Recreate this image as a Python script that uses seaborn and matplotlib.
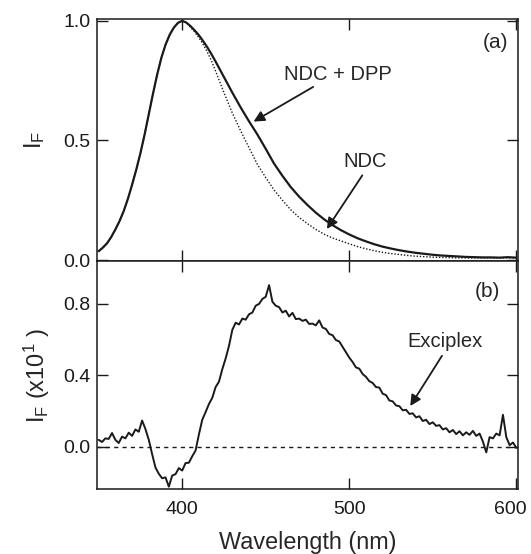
import numpy as np
import pandas as pd
import matplotlib
matplotlib.use("Agg")
import matplotlib.pyplot as plt
import matplotlib.transforms as mtransforms
import seaborn as sns

# ---------------- data ----------------
# Panel (a): normalized fluorescence spectra
wl_a = [350, 352.5, 355, 357.5, 360, 362.5, 365, 367.5, 370, 372.5, 375, 377.5,
        380, 382.5, 385, 387.5, 390, 392.5, 395, 397.5, 400, 402.5, 405, 407.5,
        410, 412.5, 415, 417.5, 420, 425, 430, 435, 440, 445, 450, 455, 460,
        465, 470, 475, 480, 485, 490, 495, 500, 505, 510, 515, 520, 525, 530,
        535, 540, 545, 550, 555, 560, 565, 570, 575, 580, 585, 590, 595, 600]
ndc_dpp = [0.037, 0.052, 0.070, 0.096, 0.128, 0.163, 0.205, 0.256, 0.315, 0.378,
           0.447, 0.525, 0.610, 0.695, 0.775, 0.845, 0.900, 0.942, 0.972, 0.992,
           1.000, 0.993, 0.978, 0.960, 0.940, 0.916, 0.890, 0.861, 0.830, 0.765,
           0.700, 0.638, 0.580, 0.525, 0.465, 0.403, 0.352, 0.305, 0.265, 0.230,
           0.198, 0.170, 0.146, 0.125, 0.107, 0.091, 0.078, 0.066, 0.056, 0.048,
           0.041, 0.035, 0.030, 0.026, 0.022, 0.019, 0.017, 0.015, 0.013, 0.012,
           0.011, 0.011, 0.010, 0.012, 0.010]
ndc = [0.037, 0.052, 0.070, 0.096, 0.128, 0.163, 0.205, 0.256, 0.315, 0.378,
       0.447, 0.525, 0.610, 0.695, 0.775, 0.845, 0.900, 0.942, 0.972, 0.992,
       1.000, 0.992, 0.973, 0.953, 0.930, 0.902, 0.870, 0.833, 0.790, 0.700,
       0.615, 0.540, 0.470, 0.400, 0.345, 0.293, 0.250, 0.210, 0.178, 0.152,
       0.128, 0.108, 0.092, 0.080, 0.068, 0.056, 0.047, 0.039, 0.032, 0.027,
       0.023, 0.019, 0.016, 0.014, 0.012, 0.011, 0.010, 0.009, 0.009, 0.009,
       0.009, 0.009, 0.009, 0.009, 0.009]

# Panel (b): difference (exciplex) spectrum, 2 nm steps 350..600
wl_b = list(range(350, 601, 2))
exciplex = [0.040, 0.028, 0.048, 0.045, 0.078, 0.040, 0.022, 0.058, 0.048, 0.080,
            0.062, 0.098, 0.085, 0.148, 0.100, 0.040, -0.040, -0.115, -0.150, -0.175,
            -0.170, -0.222, -0.160, -0.152, -0.118, -0.132, -0.090, -0.088, -0.052, -0.020,
            0.070, 0.152, 0.195, 0.240, 0.275, 0.335, 0.365, 0.435, 0.495, 0.565,
            0.655, 0.695, 0.685, 0.718, 0.712, 0.742, 0.752, 0.790, 0.800, 0.828,
            0.840, 0.905, 0.812, 0.790, 0.782, 0.752, 0.762, 0.730, 0.750, 0.715,
            0.718, 0.705, 0.712, 0.688, 0.690, 0.680, 0.708, 0.668, 0.660, 0.632,
            0.625, 0.598, 0.590, 0.560, 0.530, 0.500, 0.475, 0.445, 0.438, 0.408,
            0.392, 0.368, 0.358, 0.335, 0.332, 0.298, 0.290, 0.260, 0.255, 0.232,
            0.228, 0.205, 0.208, 0.185, 0.188, 0.165, 0.172, 0.145, 0.152, 0.128,
            0.138, 0.118, 0.122, 0.098, 0.105, 0.082, 0.095, 0.072, 0.088, 0.065,
            0.082, 0.068, 0.090, 0.062, 0.075, 0.030, -0.030, 0.055, 0.048, 0.075,
            0.065, 0.180, 0.055, 0.010, 0.025, -0.005]

xticks = [400, 500, 600]
yticks_a = [0.0, 0.5, 1.0]
yticks_b = [0.0, 0.4, 0.8]

# ---------------- style ----------------
sns.set_theme(style="ticks")
plt.rcParams["font.family"] = ["Liberation Sans", "DejaVu Sans"]
plt.rcParams["mathtext.fontset"] = "custom"
plt.rcParams["mathtext.rm"] = "Liberation Sans"
plt.rcParams["mathtext.it"] = "Liberation Sans:italic"
plt.rcParams["axes.linewidth"] = 1.1

df_a = pd.DataFrame({"wl": wl_a, "ndc_dpp": ndc_dpp, "ndc": ndc})
df_b = pd.DataFrame({"wl": wl_b, "exc": exciplex})

fig = plt.figure(figsize=(5.31, 5.54), dpi=100)
L, R = 97 / 531, 518 / 531
ax1 = fig.add_axes([L, 1 - 261 / 554, R - L, (261 - 18.5) / 554])
ax2 = fig.add_axes([L, 1 - 489 / 554, R - L, (489 - 261) / 554])

sns.lineplot(data=df_a, x="wl", y="ndc", ax=ax1, color="k", lw=1.0,
             linestyle=(0, (1, 1.3)))
sns.lineplot(data=df_a, x="wl", y="ndc_dpp", ax=ax1, color="k", lw=1.6)

ax2.axhline(0, color="k", lw=1.0, linestyle=(0, (3, 3)))
sns.lineplot(data=df_b, x="wl", y="exc", ax=ax2, color="k", lw=1.4)

for ax in (ax1, ax2):
    ax.set_xlim(349, 601)
    ax.set_xticks(xticks)
    ax.tick_params(direction="in", top=True, right=True, length=8, width=1.0,
                   labelsize=14, pad=4.5, colors="k")
    ax.tick_params(axis="x", pad=9)
    for s in ax.spines.values():
        s.set_color("k")
    ax.set_xlabel("")

ax1.set_ylim(-0.004, 1.01)
ax1.set_yticks(yticks_a)
ax1.set_yticklabels(["0.0", "0.5", "1.0"])
ax1.tick_params(axis="x", labelbottom=False)
ax1.set_ylabel(r"I$_\mathrm{F}$", fontsize=17, labelpad=12)

ax2.set_ylim(-0.235, 1.04)
ax2.set_yticks(yticks_b)
ax2.set_yticklabels(["0.0", "0.4", "0.8"])
ax2.set_xticklabels([str(t) for t in xticks])
ax2.set_ylabel(r"I$_\mathrm{F}$ (x10$^{1}$ )", fontsize=17, labelpad=8)
ax2.set_xlabel("Wavelength (nm)", fontsize=16.8, labelpad=9)

# nudge the last x tick label left so it stays inside the figure
last = ax2.get_xticklabels()[-1]
last.set_transform(last.get_transform() +
                   mtransforms.ScaledTranslation(-6 / 100, 0, fig.dpi_scale_trans))

ap = dict(arrowstyle="-|>", color="k", lw=1.3, mutation_scale=16,
          shrinkA=0, shrinkB=0)
ax1.text(587.4, 0.887, "(a)", fontsize=15, ha="center", va="baseline")
ax1.text(493.4, 0.753, "NDC + DPP", fontsize=14.5, ha="center", va="baseline")
ax1.annotate("", xy=(442.7, 0.579), xytext=(478.4, 0.724), arrowprops=ap)
ax1.text(509.6, 0.389, "NDC", fontsize=14.5, ha="center", va="baseline")
ax1.annotate("", xy=(486.6, 0.130), xytext=(507.8, 0.354), arrowprops=ap)

ax2.text(582.6, 0.841, "(b)", fontsize=15, ha="center", va="baseline")
ax2.text(557.5, 0.558, "Exciplex", fontsize=14.5, ha="center", va="baseline")
ax2.annotate("", xy=(536.5, 0.229), xytext=(555.5, 0.51), arrowprops=ap)

fig.savefig("out.png", dpi=100)
